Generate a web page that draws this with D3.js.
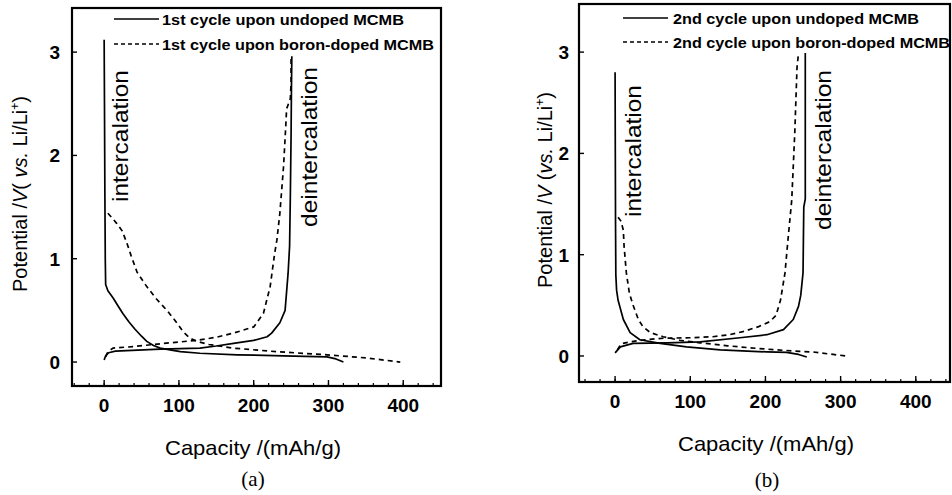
<!DOCTYPE html>
<html>
<head>
    <meta charset="utf-8">
    <script src="https://cdn.jsdelivr.net/npm/d3@7/dist/d3.min.js"></script>
    <style>
        * { margin: 0; padding: 0; }
        body { background: #fff; overflow: hidden; }
        text { font-family: "Liberation Sans", Arial, sans-serif; fill: #000; }
    </style>
</head>
<body>
<script>
    // capacity (mAh/g), potential (V)
    const undoped1Dis = [[0, 3.12], [0.5, 2.4], [1, 1.6], [1.5, 1.0], [2, 0.75], [5, 0.69], [12, 0.62], [18, 0.55], [25, 0.47], [33, 0.39], [41, 0.32], [50, 0.25], [57, 0.2], [66, 0.16], [75, 0.135], [90, 0.115], [102, 0.1], [128, 0.085], [178, 0.07], [240, 0.06], [298, 0.05], [310, 0.03], [320, 0.0]]
    const undoped1Ch = [[0, 0.02], [2, 0.06], [6, 0.09], [15, 0.105], [30, 0.11], [75, 0.125], [128, 0.135], [150, 0.155], [173, 0.18], [200, 0.21], [218, 0.245], [224, 0.28], [235, 0.38], [242, 0.5], [246, 0.86], [248, 1.12], [249, 1.6], [250, 2.2], [250.5, 2.66], [251, 2.96]]
    const boron1Dis = [[5, 1.44], [10, 1.4], [17, 1.34], [24, 1.27], [30, 1.16], [36, 1.03], [44, 0.87], [57, 0.73], [70, 0.61], [84, 0.5], [95, 0.4], [106, 0.29], [115, 0.23], [124, 0.2], [140, 0.17], [172, 0.135], [231, 0.1], [298, 0.07], [350, 0.04], [396, 0.0]]
    const boron1Ch = [[2, 0.05], [5, 0.1], [12, 0.135], [40, 0.15], [79, 0.18], [124, 0.21], [150, 0.24], [173, 0.28], [200, 0.34], [213, 0.47], [222, 0.73], [228, 1.05], [231, 1.18], [235, 1.44], [240, 1.9], [243, 2.3], [244, 2.45], [249, 2.55], [250, 2.7], [250, 2.97]]

    const undoped2Dis = [[0, 2.8], [0.3, 2.0], [0.6, 1.3], [1, 0.8], [2, 0.65], [4, 0.55], [11, 0.36], [20, 0.23], [33, 0.16], [60, 0.125], [95, 0.09], [140, 0.06], [202, 0.04], [228, 0.035], [244, 0.015], [255, -0.01]]
    const undoped2Ch = [[0, 0.03], [7, 0.09], [24, 0.125], [69, 0.13], [113, 0.14], [166, 0.18], [202, 0.21], [224, 0.26], [237, 0.36], [244, 0.49], [247, 0.6], [250, 0.82], [250.5, 1.15], [251, 1.47], [253, 1.55], [253, 2.99]]
    const boron2Dis = [[4, 1.37], [8, 1.33], [11, 1.24], [12, 1.08], [15, 0.82], [19, 0.62], [24, 0.5], [28, 0.42], [31, 0.36], [37, 0.29], [47, 0.23], [64, 0.19], [86, 0.155], [113, 0.13], [150, 0.1], [180, 0.08], [215, 0.06], [246, 0.045], [263, 0.04], [290, 0.015], [308, 0.0]]
    const boron2Ch = [[3, 0.06], [8, 0.12], [20, 0.14], [40, 0.16], [64, 0.175], [100, 0.18], [130, 0.19], [152, 0.21], [170, 0.24], [191, 0.29], [206, 0.34], [214, 0.4], [220, 0.55], [226, 0.82], [230, 1.15], [235, 1.54], [239, 2.2], [242, 2.85], [244, 2.99]]

    const xMajorTicks = [0, 100, 200, 300, 400]
    const xMinorTicks = d3.range(-40, 450, 20)
    const yTicks = [0, 1, 2, 3]

    const legendA = ['1st cycle upon undoped MCMB', '1st cycle upon boron-doped MCMB']
    const legendB = ['2nd cycle upon undoped MCMB', '2nd cycle upon boron-doped MCMB']

    const W = 952, H = 495
    const svg = d3.select('body').append('svg').attr('width', W).attr('height', H)

    const panels = [
        {
            box: [72, 8, 441, 386], xDom: [-43, 450.5], yDom: [-0.232, 3.427],
            solid: [undoped1Dis, undoped1Ch], dashed: [boron1Dis, boron1Ch],
            legend: legendA, leg: { x1: 114, x2: 159, tx: 162, y: [19, 44], tl: [242, 272] },
            inter: [128, 136], deinter: [317, 147], ylab: 12,
            ytitle: { x: 27, y: 194, parts: ['Potential /', 'V', '( ', 'vs.', ' Li/Li'] },
            xtitle: [253, 455], tag: ['(a)', 253, 486]
        },
        {
            box: [579, 4, 950, 382], xDom: [-48, 445.5], yDom: [-0.257, 3.475],
            solid: [undoped2Dis, undoped2Ch], dashed: [boron2Dis, boron2Ch],
            legend: legendB, leg: { x1: 623, x2: 668, tx: 673, y: [18, 42], tl: [246, 277] },
            inter: [641, 151], deinter: [831, 150], ylab: 10,
            ytitle: { x: 552, y: 190, parts: ['Potential /', 'V', ' (', 'vs.', ' Li/Li'] },
            xtitle: [766, 451], tag: ['(b)', 767, 487]
        }
    ]

    panels.forEach(p => {
        const [l, t, r, b] = p.box
        const x = d3.scaleLinear().domain(p.xDom).range([l, r])
        const y = d3.scaleLinear().domain(p.yDom).range([b, t])
        const g = svg.append('g')

        // ticks inward
        g.selectAll('.xmin').data(xMinorTicks).enter().append('line')
            .attr('x1', d => x(d)).attr('x2', d => x(d))
            .attr('y1', b).attr('y2', b - 3)
            .attr('stroke', '#000').attr('stroke-width', 1.2)
        g.selectAll('.xmaj').data(xMajorTicks).enter().append('line')
            .attr('x1', d => x(d)).attr('x2', d => x(d))
            .attr('y1', b).attr('y2', b - 6)
            .attr('stroke', '#000').attr('stroke-width', 1.4)
        g.selectAll('.ymaj').data(yTicks).enter().append('line')
            .attr('x1', l).attr('x2', l + 5)
            .attr('y1', d => y(d)).attr('y2', d => y(d))
            .attr('stroke', '#000').attr('stroke-width', 1.4)

        g.selectAll('.xl').data(xMajorTicks).enter().append('text')
            .attr('x', d => x(d)).attr('y', b + 26)
            .attr('text-anchor', 'middle')
            .style('font-size', '19px').style('font-weight', 'bold')
            .text(d => d)
        g.selectAll('.yl').data(yTicks).enter().append('text')
            .attr('x', l - p.ylab).attr('y', d => y(d) + 7)
            .attr('text-anchor', 'end')
            .style('font-size', '19px').style('font-weight', 'bold')
            .text(d => d)

        // curves
        const line = d3.line().x(d => x(d[0])).y(d => y(d[1]))
        p.solid.forEach(s => {
            g.append('path').attr('d', line(s)).attr('fill', 'none')
                .attr('stroke', '#000').attr('stroke-width', 1.7).attr('stroke-linejoin', 'round')
        })
        p.dashed.forEach(s => {
            g.append('path').attr('d', line(s)).attr('fill', 'none')
                .attr('stroke', '#000').attr('stroke-width', 1.7).attr('stroke-dasharray', '5,4')
        })

        // frame
        g.append('rect').attr('x', l).attr('y', t).attr('width', r - l).attr('height', b - t)
            .attr('fill', 'none').attr('stroke', '#000').attr('stroke-width', 2.2)

        // legend
        p.legend.forEach((txt, i) => {
            g.append('line').attr('x1', p.leg.x1).attr('x2', p.leg.x2)
                .attr('y1', p.leg.y[i]).attr('y2', p.leg.y[i])
                .attr('stroke', '#000').attr('stroke-width', 1.4)
                .attr('stroke-dasharray', i == 1 ? '4,3' : null)
            g.append('text').attr('x', p.leg.tx).attr('y', p.leg.y[i] + 6)
                .attr('textLength', p.leg.tl[i]).attr('lengthAdjust', 'spacingAndGlyphs')
                .style('font-size', '15px').style('font-weight', 'bold')
                .text(txt)
        })

        // annotations
        g.append('text').attr('transform', `translate(${p.inter[0]},${p.inter[1]}) rotate(-90)`)
            .attr('text-anchor', 'middle').attr('textLength', 132).attr('lengthAdjust', 'spacingAndGlyphs')
            .style('font-size', '22px').text('intercalation')
        g.append('text').attr('transform', `translate(${p.deinter[0]},${p.deinter[1]}) rotate(-90)`)
            .attr('text-anchor', 'middle').attr('textLength', 160).attr('lengthAdjust', 'spacingAndGlyphs')
            .style('font-size', '22px').text('deintercalation')

        // axis titles
        const yt = g.append('text').attr('transform', `translate(${p.ytitle.x},${p.ytitle.y}) rotate(-90)`)
            .attr('text-anchor', 'middle').style('font-size', '20px')
        p.ytitle.parts.forEach((s, i) => {
            yt.append('tspan').style('font-style', (i == 1 || i == 3) ? 'italic' : 'normal').text(s)
        })
        yt.append('tspan').attr('dy', -8).style('font-size', '12px').text('+')
        yt.append('tspan').attr('dy', 8).text(')')

        g.append('text').attr('x', p.xtitle[0]).attr('y', p.xtitle[1])
            .attr('text-anchor', 'middle').attr('textLength', 176).attr('lengthAdjust', 'spacingAndGlyphs')
            .style('font-size', '21px').text('Capacity /(mAh/g)')

        g.append('text').attr('x', p.tag[1]).attr('y', p.tag[2])
            .attr('text-anchor', 'middle')
            .style('font-family', '"Liberation Serif", "Times New Roman", serif').style('font-size', '21px')
            .text(p.tag[0])
    })
</script>
</body>
</html>
